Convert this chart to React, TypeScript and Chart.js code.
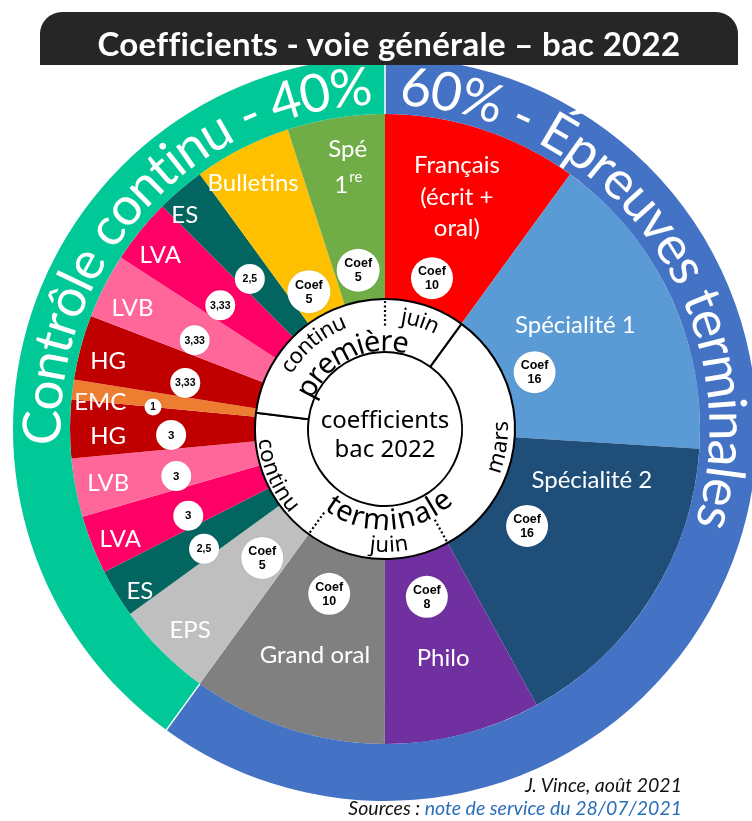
import React, { useEffect, useRef } from "react";
import { Chart, registerables } from "chart.js";

Chart.register(...registerables);

// ---------------- data ----------------
const titleText = "Coefficients - voie générale – bac 2022";

const partLabels = ["60% - Épreuves terminales", "Contrôle continu - 40%"];
const partValues = [60, 40];
const partColors = ["#4472C4", "#00C896"];

const subjectNames = [
  "Français\n(écrit +\noral)", "Spécialité 1", "Spécialité 2", "Philo", "Grand oral",
  "EPS", "ES", "LVA", "LVB", "HG", "EMC", "HG", "LVB", "LVA", "ES", "Bulletins", "Spé\n1^re",
];
const subjectCoefs = [10, 16, 16, 8, 10, 5, 2.5, 3, 3, 3, 1, 3.33, 3.33, 3.33, 2.5, 5, 5];
const coefBadges = [
  "Coef\n10", "Coef\n16", "Coef\n16", "Coef\n8", "Coef\n10", "Coef\n5", "2,5", "3", "3", "3",
  "1", "3,33", "3,33", "3,33", "2,5", "Coef\n5", "Coef\n5",
];
const subjectColors = [
  "#FF0000", "#5B9BD5", "#1F4E79", "#7030A0", "#808080", "#BFBFBF", "#03655F", "#FF0066",
  "#FF6699", "#C00000", "#ED7D31", "#C00000", "#FF6699", "#FF0066", "#03655F", "#FFC000", "#70AD47",
];

const yearLabels = ["terminale", "première"];
const yearValues = [67, 33];

const centerLines = ["coefficients", "bac 2022"];
const footerAuthor = "J. Vince, août 2021";
const footerSourceLabel = "Sources : ";
const footerSourceLink = "note de service du 28/07/2021";

// ---------------- label placement (clock degrees, radius px) ----------------
const namePlace: [number, number][] = [
  [17.2, 243], [61.3, 217], [103.8, 213], [165.8, 237], [197.2, 237], [224.1, 280], [236.5, 294],
  [247.3, 287], [259, 282], [268.6, 277], [275.4, 286], [283.8, 285], [295.6, 280], [307.7, 284],
  [316.9, 293], [331.8, 279], [351.9, 264],
];
const nameLineHeight = [31.5, 0, 0, 0, 0, 0, 0, 0, 0, 0, 0, 0, 0, 0, 0, 0, 36];
const badgePlace: [number, number, number][] = [
  [17.3, 158, 21], [69.2, 160, 21], [124.3, 172, 21], [166, 173, 21], [198.7, 174, 21],
  [223.6, 178, 21], [236.5, 217, 15], [246.2, 215, 15], [257.3, 214, 15], [268.4, 214, 15],
  [275.4, 233, 8.5], [283, 205, 15], [295, 210, 15], [306.9, 206, 15], [318, 202, 15],
  [331, 157, 21.5], [350.4, 161, 21.5],
];

const DEG = Math.PI / 180;
const clockDeg = (a: number) => (a + Math.PI / 2) / DEG;

function drawArcText(
  ctx: CanvasRenderingContext2D, text: string, cx: number, cy: number, rMid: number,
  centerDeg: number, outward: boolean, font: string, vh: number, color: string,
) {
  ctx.save();
  ctx.font = font;
  ctx.fillStyle = color;
  ctx.textAlign = "center";
  ctx.textBaseline = "alphabetic";
  const chars = Array.from(text);
  const ws = chars.map((c) => ctx.measureText(c).width);
  const total = ws.reduce((s, w) => s + w, 0);
  const rBase = outward ? rMid - vh / 2 : rMid + vh / 2;
  let acc = 0;
  chars.forEach((ch, i) => {
    const off = (acc + ws[i] / 2 - total / 2) / rMid;
    const a = centerDeg * DEG + (outward ? off : -off);
    ctx.save();
    ctx.translate(cx + rBase * Math.sin(a), cy - rBase * Math.cos(a));
    ctx.rotate(outward ? a : a + Math.PI);
    ctx.fillText(ch, 0, 0);
    ctx.restore();
    acc += ws[i];
  });
  ctx.restore();
}

function fitArcText(
  ctx: CanvasRenderingContext2D, text: string, cx: number, cy: number, rMid: number,
  startDeg: number, endDeg: number, family: string, capRatio: number, color: string,
) {
  ctx.save();
  ctx.font = `100px ${family}`;
  const w100 = Array.from(text).reduce((s, c) => s + ctx.measureText(c).width, 0);
  ctx.restore();
  const arcLen = (endDeg - startDeg) * DEG * rMid;
  const size = (100 * arcLen) / w100;
  drawArcText(ctx, text, cx, cy, rMid, (startDeg + endDeg) / 2, true, `${size}px ${family}`, size * capRatio, color);
}

const overlayPlugin = {
  id: "overlay",
  afterDatasetsDraw(chart: any) {
    const ctx: CanvasRenderingContext2D = chart.ctx;
    const ring = chart.getDatasetMeta(0).data as any[];
    const pie = chart.getDatasetMeta(1).data as any[];
    const years = chart.getDatasetMeta(2).data as any[];
    const cx = pie[0].x;
    const cy = pie[0].y;
    const pt = (deg: number, r: number) => [cx + r * Math.sin(deg * DEG), cy - r * Math.cos(deg * DEG)];

    // white separators in the outer ring
    const rIn = ring[0].innerRadius, rOut = ring[0].outerRadius;
    ctx.save();
    ctx.strokeStyle = "#ffffff";
    ctx.lineWidth = 1.5;
    ring.forEach((arc) => {
      const d = clockDeg(arc.startAngle);
      const [x1, y1] = pt(d, rIn);
      const [x2, y2] = pt(d, rOut + 2);
      ctx.beginPath(); ctx.moveTo(x1, y1); ctx.lineTo(x2, y2); ctx.stroke();
    });
    ctx.restore();

    // outer ring titles
    const rMid = (rIn + rOut) / 2;
    fitArcText(ctx, partLabels[1], cx, cy, rMid, 267.3, 357.8, "Lato, sans-serif", 0.72, "#ffffff");
    fitArcText(ctx, partLabels[0], cx, cy, rMid, 2.6, 107, "Lato, sans-serif", 0.72, "#ffffff");

    // subject names
    ctx.save();
    ctx.fillStyle = "#ffffff";
    ctx.textAlign = "center";
    ctx.textBaseline = "middle";
    subjectNames.forEach((name, i) => {
      const [deg, r] = namePlace[i];
      const [x, y] = pt(deg, r);
      const lines = name.split("\n");
      const lh = nameLineHeight[i];
      lines.forEach((line, j) => {
        const ly = y + (j - (lines.length - 1) / 2) * lh;
        if (line.includes("^")) {
          const [base, sup] = line.split("^");
          ctx.font = "24px Lato, sans-serif";
          const wb = ctx.measureText(base).width;
          ctx.font = "15px Lato, sans-serif";
          const wsup = ctx.measureText(sup).width;
          const x0 = x - (wb + wsup) / 2;
          ctx.textAlign = "left";
          ctx.font = "24px Lato, sans-serif";
          ctx.fillText(base, x0, ly);
          ctx.font = "15px Lato, sans-serif";
          ctx.fillText(sup, x0 + wb + 1, ly - 8);
          ctx.textAlign = "center";
        } else {
          ctx.font = "24px Lato, sans-serif";
          ctx.fillText(line, x, ly);
        }
      });
    });
    ctx.restore();

    // coefficient badges
    coefBadges.forEach((txt, i) => {
      const [deg, r, br] = badgePlace[i];
      const [x, y] = pt(deg, r);
      ctx.save();
      ctx.beginPath();
      ctx.arc(x, y, br, 0, Math.PI * 2);
      ctx.fillStyle = "#ffffff";
      ctx.shadowColor = "rgba(0,0,0,0.15)";
      ctx.shadowBlur = 1.5;
      ctx.fill();
      ctx.restore();
      ctx.save();
      ctx.fillStyle = "#000000";
      ctx.textAlign = "center";
      ctx.textBaseline = "middle";
      const lines = txt.split("\n");
      if (lines.length === 2) {
        ctx.font = "bold 12.5px 'Liberation Sans', Arial, sans-serif";
        ctx.fillText(lines[0], x, y - 6.5);
        ctx.fillText(lines[1], x, y + 7.5);
      } else {
        ctx.font = `bold ${br < 10 ? 10 : txt.length > 2 ? 10.5 : 11.5}px 'Liberation Sans', Arial, sans-serif`;
        ctx.fillText(lines[0], x, y + 0.5);
      }
      ctx.restore();
    });

    // dotted sub-dividers in the year ring
    const yIn = years[0].innerRadius, yOut = years[0].outerRadius;
    const dotted = [pie[0].startAngle, pie[2].endAngle, pie[4].endAngle].map(clockDeg);
    ctx.save();
    ctx.strokeStyle = "#000000";
    ctx.lineWidth = 2.2;
    ctx.setLineDash([2, 2.5]);
    dotted.forEach((d) => {
      const [x1, y1] = pt(d, (yIn + yOut) / 2);
      const [x2, y2] = pt(d, yOut);
      ctx.beginPath(); ctx.moveTo(x1, y1); ctx.lineTo(x2, y2); ctx.stroke();
    });
    ctx.restore();

    // year ring texts
    const small = "22px 'Noto Sans', sans-serif";
    const big = "29px 'Noto Sans', sans-serif";
    drawArcText(ctx, "continu", cx, cy, 114, 320, true, small, 11.8, "#000");
    drawArcText(ctx, "juin", cx, cy, 113, 18, true, small, 11.8, "#000");
    drawArcText(ctx, yearLabels[1], cx, cy, 86, 334, true, big, 15.5, "#000");
    drawArcText(ctx, "mars", cx, cy, 117, 99, false, small, 11.8, "#000");
    drawArcText(ctx, yearLabels[0], cx, cy, 93, 177, false, big, 15.5, "#000");
    drawArcText(ctx, "juin", cx, cy, 117, 178, false, small, 11.8, "#000");
    drawArcText(ctx, "continu", cx, cy, 121, 246.8, false, small, 11.8, "#000");

    // centre text
    ctx.save();
    ctx.fillStyle = "#000";
    ctx.textAlign = "center";
    ctx.textBaseline = "alphabetic";
    ctx.font = "24px 'Noto Sans', sans-serif";
    ctx.fillText(centerLines[0], cx, cy - 1);
    ctx.fillText(centerLines[1], cx, cy + 28);
    ctx.restore();
  },
};

export default function App() {
  const ref = useRef<HTMLCanvasElement>(null);

  useEffect(() => {
    const total = subjectCoefs.reduce((s, v) => s + v, 0);
    const yearRotation = (subjectCoefs[0] / total) * 360;
    const chart = new Chart(ref.current as HTMLCanvasElement, {
      type: "doughnut",
      data: {
        labels: subjectNames,
        datasets: [
          { label: "parts", data: partValues, backgroundColor: partColors, borderWidth: 0, weight: 57 } as any,
          { label: "coefficients", data: subjectCoefs, backgroundColor: subjectColors, borderWidth: 0, weight: 185 } as any,
          {
            label: "années", data: yearValues, backgroundColor: "#ffffff", borderColor: "#000000",
            borderWidth: 2, weight: 53, rotation: yearRotation, order: -1,
          } as any,
        ],
      },
      options: {
        responsive: false,
        animation: false,
        events: [],
        radius: 372,
        cutout: `${(77 / 372) * 100}%`,
        layout: { padding: { left: 41, right: 23, top: 85, bottom: 48 } },
        plugins: { legend: { display: false }, tooltip: { enabled: false }, title: { display: false } },
      } as any,
      plugins: [overlayPlugin],
    });
    return () => chart.destroy();
  }, []);

  return (
    <div style={{ position: "absolute", left: 0, top: 0, width: 752, height: 821, overflow: "hidden", background: "#fff" }}>
      <canvas ref={ref} width={752} height={821} style={{ display: "block", position: "absolute", left: 0, top: 0 }} />
      <div
        style={{
          position: "absolute", left: 40, top: 12, width: 698, height: 53, background: "#262626",
          borderRadius: "22px 22px 0 0", overflow: "hidden",
        }}
      >
        <div
          style={{
            position: "absolute", left: 0, right: 0, top: 3, lineHeight: "56px", textAlign: "center",
            color: "#fff", fontFamily: "Lato, sans-serif", fontWeight: 700, fontSize: 33, letterSpacing: 0.3,
            whiteSpace: "nowrap",
          }}
        >
          {titleText}
        </div>
      </div>
      <div
        style={{
          position: "absolute", right: 70, top: 773, lineHeight: "23px", fontFamily: "Lato, sans-serif",
          fontStyle: "italic", fontSize: 19.5, color: "#111", whiteSpace: "nowrap", textAlign: "right",
        }}
      >
        {footerAuthor}
      </div>
      <div
        style={{
          position: "absolute", right: 70, top: 796, lineHeight: "23px", fontFamily: "Lato, sans-serif",
          fontStyle: "italic", fontSize: 19.5, color: "#111", whiteSpace: "nowrap", textAlign: "right",
        }}
      >
        {footerSourceLabel}
        <span style={{ color: "#2A6EBB" }}>{footerSourceLink}</span>
      </div>
    </div>
  );
}
